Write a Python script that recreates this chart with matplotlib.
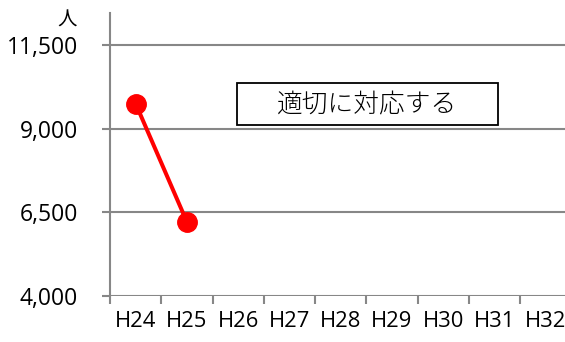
import matplotlib.pyplot as plt
from matplotlib.patches import Rectangle

years = ['H24', 'H25', 'H26', 'H27', 'H28', 'H29', 'H30', 'H31', 'H32']
people = [9760, 6220]
yticks = [4000, 6500, 9000, 11500]
note = '適切に対応する'
unit = '人'

plt.rcParams['font.family'] = ['Open Sans', 'Noto Sans CJK JP', 'DejaVu Sans']

grey = '#878787'
fig = plt.figure(figsize=(5.65, 3.42), dpi=100)
ax = fig.add_axes([110 / 565, 46 / 342, 461.25 / 565, 283 / 342])

x = list(range(len(people)))
ax.plot(x, people, color='#ff0000', linewidth=2.9, marker='o', markersize=14, zorder=5, clip_on=False)

ax.set_xlim(-0.5, len(years) - 0.5)
ax.set_ylim(4000, 12473)

# tick marks between categories, labels centred
ax.set_xticks([i - 0.5 for i in range(len(years) + 1)])
ax.set_xticklabels([])
ax.set_xticks(range(len(years)), minor=True)
ax.set_xticklabels(years, minor=True, fontsize=15.8)
ax.tick_params(axis='x', which='major', length=6, width=1.5, color=grey, direction='out')
ax.tick_params(axis='x', which='minor', length=0, pad=11)

ax.set_yticks(yticks)
ax.set_yticklabels([f'{v:,}' for v in yticks], fontsize=16.5)
ax.tick_params(axis='y', length=6, width=1.5, color=grey, direction='out', pad=17)

ax.grid(axis='y', color=grey, linewidth=1.5)
ax.set_axisbelow(True)
for s in ['top', 'right', 'bottom']:
    ax.spines[s].set_visible(False)
ax.spines['left'].set_color(grey)
ax.spines['left'].set_linewidth(1.5)

# note box
ax.add_patch(Rectangle((0.2753, 0.6042), 0.5659, 0.1484, transform=ax.transAxes,
                       facecolor='white', edgecolor='black', linewidth=1.3, zorder=6))
ax.text(0.558, 0.675, note, transform=ax.transAxes, ha='center', va='center',
        fontsize=18.5, family=['Noto Sans CJK JP'], fontweight='light', zorder=7)

fig.text(67 / 565, 1 - 20 / 342, unit, ha='center', va='center', fontsize=14,
         family=['Noto Sans CJK JP'])

fig.savefig('out.png', dpi=100)
